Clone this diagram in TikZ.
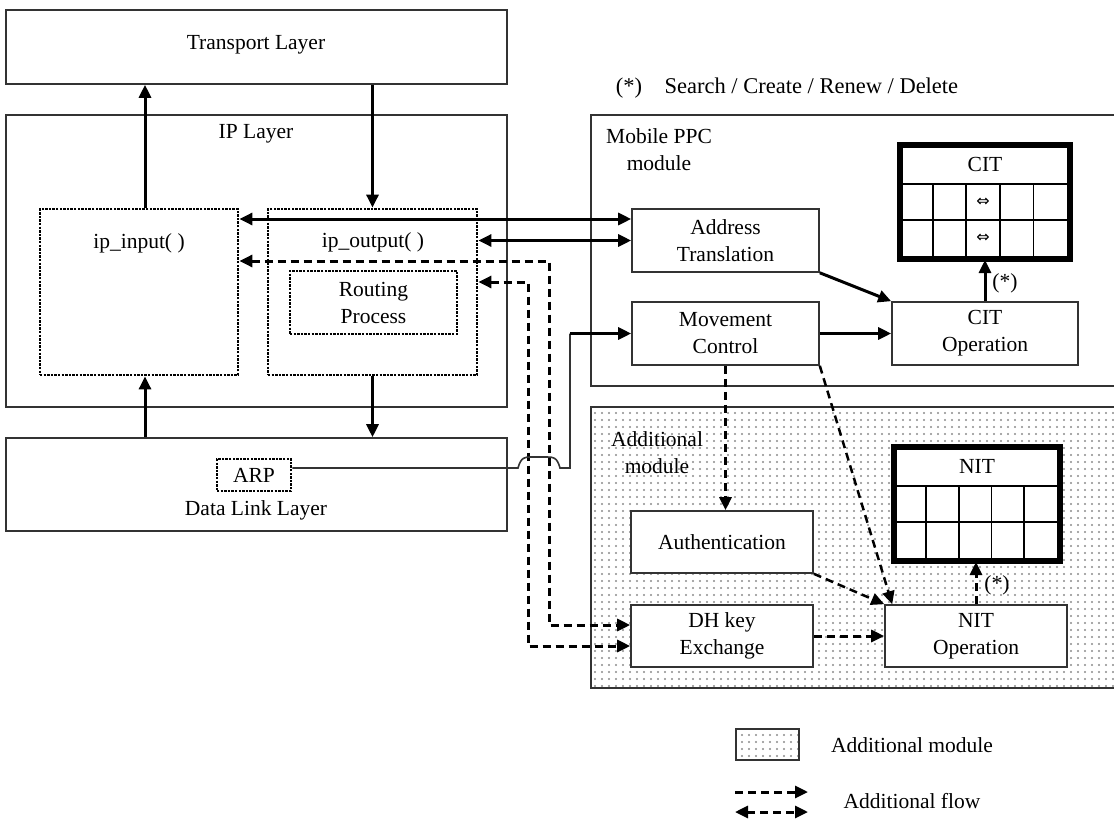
\documentclass[tikz,border=0pt]{standalone}
\usepackage{fontspec}
\setmainfont{Liberation Serif}
\newfontfamily\symfont{DejaVu Sans}
\usetikzlibrary{arrows.meta,calc,fit,patterns.meta}
\begin{document}
\begin{tikzpicture}[x=1pt,y=-1pt,
  font=\fontsize{21.5}{27}\selectfont,
  box/.style={draw=black!80, line width=1.6pt, inner sep=0pt},
  wbox/.style={box, fill=white},
  dbox/.style={draw=black, line width=2.8pt, dash pattern=on 2.4pt off 1.2pt, inner sep=0pt},
  tbl/.style={draw=black, line width=4pt, inner sep=0pt, fill=white},
  tline/.style={draw=black, line width=1.8pt},
  txt/.style={inner sep=0pt, align=center},
  dotfill/.style={pattern={Dots[distance=7pt,radius=1.1pt]}, pattern color=black!45},
  tip/.tip={Triangle[length=13pt,width=12pt]},
  arr/.style={line width=3pt, -tip},
  darr/.style={line width=3pt, tip-tip},
  dsh/.style={line width=3pt, dash pattern=on 8pt off 5pt, -tip},
  ddsh/.style={line width=3pt, dash pattern=on 8pt off 5pt, tip-tip},
  dsh2/.style={line width=2.5pt, dash pattern=on 8pt off 5pt, -tip},
  thin/.style={draw=black!80, line width=1.6pt}
]
\path[fill=white] (0,0) rectangle (1114,819);
\useasboundingbox (0,0) rectangle (1114,819);

% ---------- left stack ----------
\node[box, fit={(6,10)(507,84)}] (tl) {};
\node[txt] (tlt) at (256,45) {Transport Layer};
\node[box, fit={(6,115)(507,407)}] (ipl) {};
\node[txt] (iplt) at (256,134) {IP Layer};
\node[box, fit={(6,438)(507,531)}] (dll) {};
\node[txt] (dllt) at (256,510) {Data Link Layer};
\node[dbox, fit={(217,459)(291,491)}] (arp) {};
\node[txt] (arpt) at (arp.center) {ARP};
\node[dbox, fit={(40,209)(238,375)}] (ipin) {};
\node[txt] (ipint) at (139,243) {ip\_input(~)};
\node[dbox, fit={(268,209)(477,375)}] (ipout) {};
\node[txt] (ipoutt) at (373,242) {ip\_output(~)};
\node[dbox, fit={(290,271)(457,334)}] (rp) {};
\node[txt] (rpt) at (rp.center) {Routing\\Process};

% ---------- Mobile PPC module ----------
\node[box, fit={(591,115)(1125,386)}] (mpm) {};
\node[txt] (mpmt) at (659,150) {Mobile PPC\\module};
\node[box, fit={(632,209)(819,272)}] (addr) {};
\node[txt] (addrt) at (addr.center) {Address\\Translation};
\node[box, fit={(632,302)(819,365)}] (mc) {};
\node[txt] (mct) at (mc.center) {Movement\\Control};
\node[box, fit={(892,302)(1078,365)}] (citop) {};
\node[txt] (citopt) at (citop.center) {CIT\\Operation};
\node[tbl, fit={(901,146)(1069,258)}] (cit) {};
\foreach \dx in {33.6,67.2,100.8,134.4}
  \draw[tline] ($(cit.north west)+(\dx,40)$) -- ($(cit.south west)+(\dx,0)$);
\draw[tline] ($(cit.north west)+(0,40)$) -- ($(cit.north east)+(0,40)$);
\draw[tline] ($(cit.north west)+(0,76)$) -- ($(cit.north east)+(0,76)$);
\draw[line width=4pt] (cit.north west) rectangle (cit.south east);
\node[txt] (citt) at ($(cit.north)+(0,20)$) {CIT};
\node[txt, font=\symfont\fontsize{16}{16}\selectfont] (cita) at ($(cit.north west)+(84,58)$) {⇔};
\node[txt, font=\symfont\fontsize{16}{16}\selectfont] (citb) at ($(cit.north west)+(84,94)$) {⇔};

% ---------- Additional module ----------
\node[box, dotfill, fit={(591,407)(1125,688)}] (am) {};
\node[txt] (amt) at (657,453) {Additional\\module};
\node[wbox, fit={(631,511)(813,573)}] (auth) {};
\node[txt] (autht) at (auth.center) {Authentication};
\node[wbox, fit={(631,605)(813,667)}] (dh) {};
\node[txt] (dht) at (dh.center) {DH key\\Exchange};
\node[wbox, fit={(885,605)(1067,667)}] (nitop) {};
\node[txt] (nitopt) at (nitop.center) {NIT\\Operation};
\node[tbl, fit={(895,448)(1059,560)}] (nit) {};
\foreach \dx in {32.8,65.6,98.4,131.2}
  \draw[tline] ($(nit.north west)+(\dx,40)$) -- ($(nit.south west)+(\dx,0)$);
\draw[tline] ($(nit.north west)+(0,40)$) -- ($(nit.north east)+(0,40)$);
\draw[tline] ($(nit.north west)+(0,76)$) -- ($(nit.north east)+(0,76)$);
\draw[line width=4pt] (nit.north west) rectangle (nit.south east);
\node[txt] (nitt) at ($(nit.north)+(0,20)$) {NIT};

% ---------- note ----------
\node[txt, font=\fontsize{22.5}{27}\selectfont] (note) at (787,88) {(*)\quad Search / Create / Renew / Delete};

% ---------- connectors ----------
\coordinate (xup) at (145,0);
\draw[arr] (xup |- ipin.north) -- (xup |- tl.south);
\draw[arr] (ipout.north |- tl.south) -- (ipout.north);
\draw[arr] (xup |- dll.north) -- (xup |- ipin.south);
\draw[arr] (ipout.south) -- (ipout.south |- dll.north);

\coordinate (ya) at (0,219);
\draw[darr] (ipin.east |- ya) -- (addr.west |- ya);
\draw[darr] (ipout.east |- addr.west) -- (addr.west);

\coordinate (dA) at (549,261);
\coordinate (dB) at (528,282);
\draw[ddsh] (ipin.east |- dA) -- (dA) |- ($(dh.west)+(0,-11)$);
\draw[ddsh] (ipout.east |- dB) -- (dB) |- ($(dh.west)+(0,10)$);

% ARP link with hop
\coordinate (jx) at (570,0);
\draw[thin] ($(arp.east)+(0,-7)$) coordinate (h0) -- (518,468)
  .. controls (521,457) and (525,457) .. (531,457) -- (547,457)
  .. controls (553,457) and (557,457) .. (560,468) -- (jx |- h0) -- (jx |- mc.west);
\draw[arr] (jx |- mc.west) -- (mc.west);

\draw[arr] (addr.south east) -- (citop.north west);
\draw[arr] (mc.east) -- (citop.west);
\draw[arr] (citop.north) -- (citop.north |- cit.south);
\node[txt] (s1) at (1005,283) {(*)};

\draw[dsh] (mc.south) -- (mc.south |- auth.north);
\draw[dsh2] (mc.south east) -- ($(nitop.north west)+(8,0)$);
\draw[dsh2] (auth.south east) -- (nitop.north west);
\draw[dsh] (dh.east) -- (nitop.west);
\draw[dsh] (nitop.north) -- (nitop.north |- nit.south);
\node[txt] (s2) at (997,585) {(*)};

% ---------- legend ----------
\node[box, dotfill, fit={(736,729)(799,760)}] (leg) {};
\node[txt] (legt) at (912,745) {Additional module};
\coordinate (la1) at (735,792);
\coordinate (la2) at (808,792);
\coordinate (lb1) at (735,812);
\coordinate (lb2) at (808,812);
\draw[dsh] (la1) -- (la2);
\draw[ddsh] (lb1) -- (lb2);
\node[txt] (legf) at (912,801) {Additional flow};
\end{tikzpicture}
\end{document}
